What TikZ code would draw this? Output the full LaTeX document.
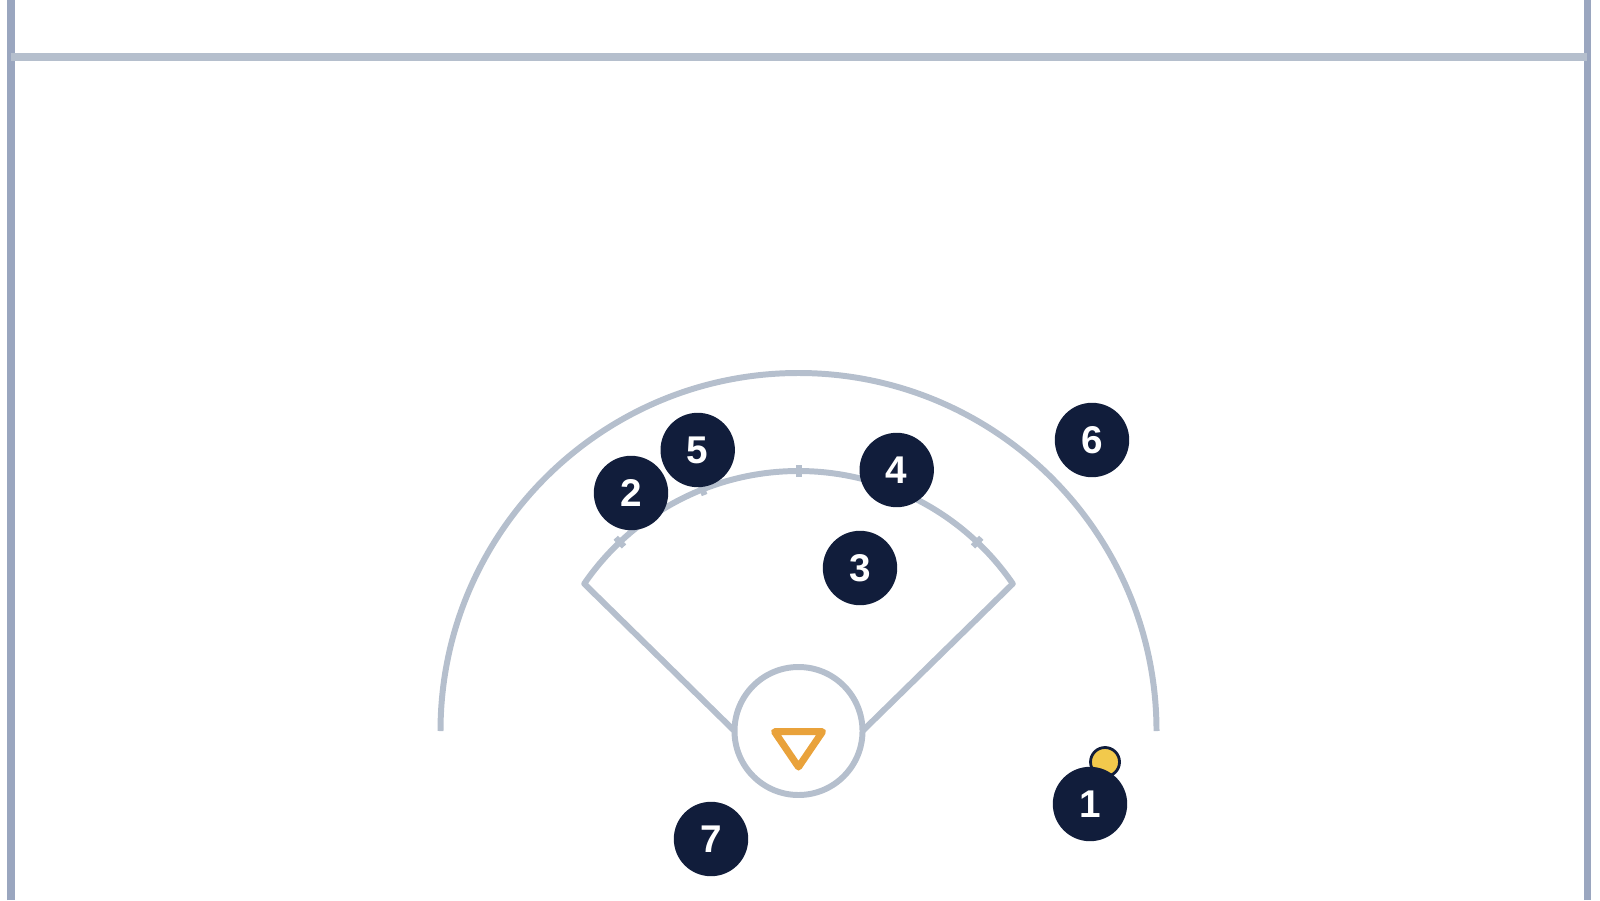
\documentclass[tikz,border=0pt]{standalone}
\usepackage{fontspec}
\setmainfont{Liberation Sans}
\usepackage{tikz}

\definecolor{navy}{HTML}{111D3B}
\definecolor{fieldgray}{HTML}{B5BFCD}
\definecolor{sidegray}{HTML}{9AA6BF}
\definecolor{goalorange}{HTML}{E9A23B}
\definecolor{ballyellow}{HTML}{F2C94C}

\tikzset{
    fieldline/.style={draw=fieldgray, line width=1.7pt},
    boundary/.style={draw=sidegray, line width=2pt},
    player/.style={circle, fill=navy, text=white, minimum size=0.744cm, inner sep=0pt,
        font=\fontsize{11}{12}\selectfont\bfseries}
}

\begin{document}
\begin{tikzpicture}
        \useasboundingbox (0,0) rectangle (16,9);

        % Boundaries
        \draw[boundary] (0.11,0) -- (0.11,9);
        \draw[boundary] (15.87,0) -- (15.87,9);
        \draw[boundary, draw=fieldgray] (0.11,8.43) -- (15.87,8.43);

        % Crease and arcs
        \coordinate (C) at (7.985,1.69);
        \coordinate (creaseW) at (7.345,1.69);
        \coordinate (creaseE) at (8.625,1.69);
        \draw[fieldline] (C) circle (0.64);
        \draw[fieldline] ([shift={(180:3.58)}]C) arc[start angle=180, end angle=0, radius=3.58];
        \draw[fieldline, line join=round] (creaseW) -- ([shift={(145.5:2.6)}]C)
            arc[start angle=145.5, end angle=34.5, radius=2.6] -- (creaseE);

        % Hash marks
        \foreach \a in {46.6,68.3,90,111.7,133.4}
            \draw[fieldline] ([shift={(\a:2.54)}]C) -- ([shift={(\a:2.66)}]C);

        % Goal
        \draw[goalorange, line width=2pt, line join=round, line cap=round]
            (7.745,1.683) -- (8.225,1.683) -- (7.985,1.33) -- cycle;

        % Ball
        \node[circle, fill=ballyellow, draw=navy, line width=0.8pt, minimum size=0.29cm,
            inner sep=0pt] (ball) at (11.05,1.38) {};

        % Players
        \node[player] (p1) at (10.90,0.96) {1};
        \node[player] (p2) at (6.31,4.07) {2};
        \node[player] (p3) at (8.60,3.32) {3};
        \node[player] (p4) at (8.967,4.30) {4};
        \node[player] (p5) at (6.977,4.50) {5};
        \node[player] (p6) at (10.92,4.60) {6};
        \node[player] (p7) at (7.11,0.61) {7};
\end{tikzpicture}
\end{document}
